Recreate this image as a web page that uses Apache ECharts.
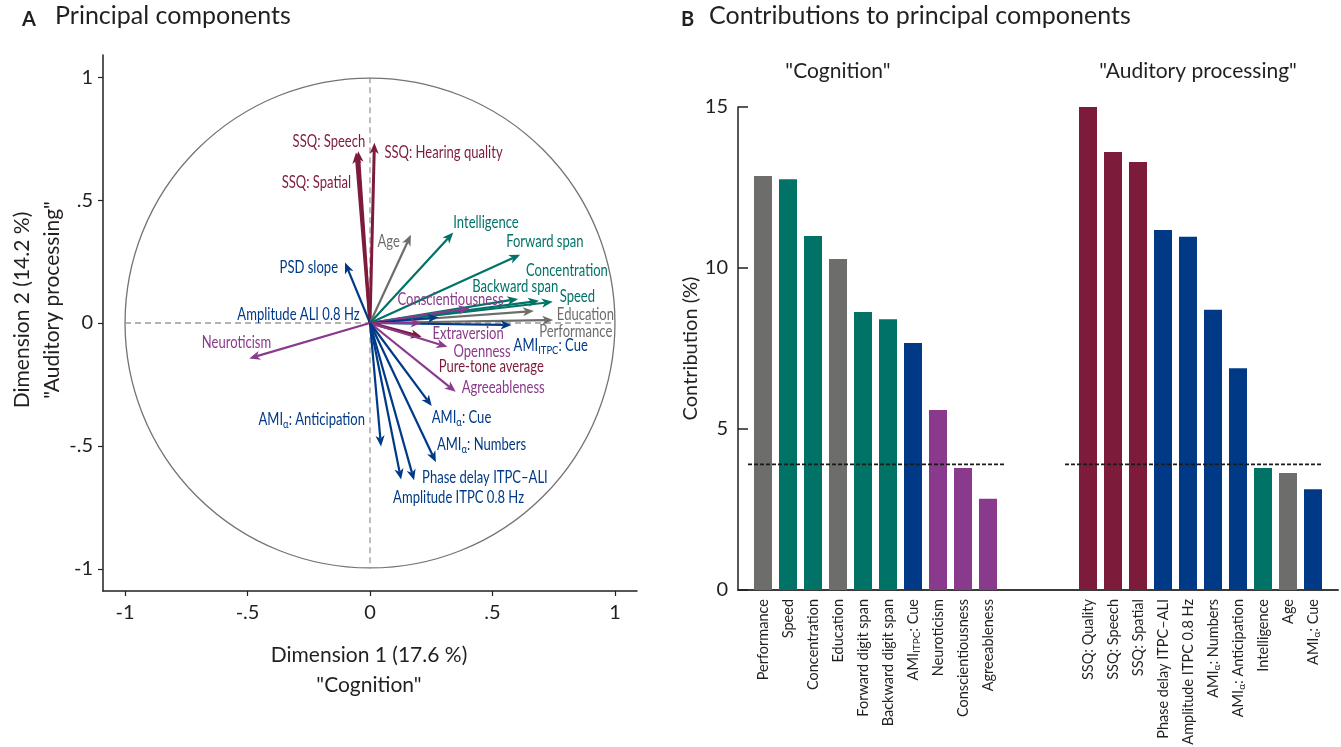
<!DOCTYPE html>
<html>
<head>
<meta charset="utf-8">
<script src="https://cdn.jsdelivr.net/npm/echarts@6/dist/echarts.min.js"></script>
<style>
  html, body { margin: 0; padding: 0; background: #ffffff; }
  #chart { width: 1341px; height: 747px; }
</style>
</head>
<body>
<div id="chart"></div>
<script>
// ---------- Panel A: PCA loadings (Dimension 1 / Dimension 2) ----------
// "_{...}" marks a subscript in a name.
const loadingNames = [
  'SSQ: Hearing quality', 'SSQ: Speech', 'SSQ: Spatial', 'Age', 'PSD slope',
  'Intelligence', 'Forward span', 'Backward span', 'Concentration', 'Speed',
  'Conscientiousness', 'Education', 'Performance', 'AMI_{ITPC}: Cue', 'Amplitude ALI 0.8 Hz',
  'Extraversion', 'Pure-tone average', 'Openness', 'Agreeableness', 'Neuroticism',
  'AMI_{α}: Anticipation', 'Amplitude ITPC 0.8 Hz', 'Phase delay ITPC\u2013ALI', 'AMI_{α}: Numbers', 'AMI_{α}: Cue'
];
const loadingDim1 = [
  0.018, -0.048, -0.057, 0.167, -0.102,
  0.340, 0.613, 0.605, 0.690, 0.746,
  0.406, 0.669, 0.748, 0.578, 0.280,
  0.210, 0.211, 0.316, 0.350, -0.493,
  0.045, 0.127, 0.180, 0.269, 0.252
];
const loadingDim2 = [
  0.733, 0.699, 0.693, 0.359, 0.246,
  0.368, 0.278, 0.098, 0.090, 0.086,
  0.060, 0.049, 0.012, -0.008, 0.023,
  0.000, -0.056, -0.097, -0.280, -0.144,
  -0.502, -0.637, -0.640, -0.566, -0.338
];
const loadingGroups = [
  'hearing', 'hearing', 'hearing', 'demographic', 'neural',
  'cognitive', 'cognitive', 'cognitive', 'cognitive', 'cognitive',
  'personality', 'demographic', 'demographic', 'neural', 'neural',
  'personality', 'hearing', 'personality', 'personality', 'personality',
  'neural', 'neural', 'neural', 'neural', 'neural'
];
const axisTicksA = [-1, -0.5, 0, 0.5, 1];

// ---------- Panel B: contributions (%) ----------
const cognitionNames = [
  'Performance', 'Speed', 'Concentration', 'Education', 'Forward digit span',
  'Backward digit span', 'AMI_{ITPC}: Cue', 'Neuroticism', 'Conscientiousness', 'Agreeableness'
];
const cognitionValues = [12.86, 12.76, 10.99, 10.28, 8.63, 8.41, 7.67, 5.59, 3.79, 2.83];
const cognitionGroups = [
  'demographic', 'cognitive', 'cognitive', 'demographic', 'cognitive',
  'cognitive', 'neural', 'personality', 'personality', 'personality'
];
const auditoryNames = [
  'SSQ: Quality', 'SSQ: Speech', 'SSQ: Spatial', 'Phase delay ITPC\u2013ALI', 'Amplitude ITPC 0.8 Hz',
  'AMI_{α}: Numbers', 'AMI_{α}: Anticipation', 'Intelligence', 'Age', 'AMI_{α}: Cue'
];
const auditoryValues = [15.03, 13.60, 13.29, 11.18, 10.97, 8.70, 6.89, 3.79, 3.63, 3.13];
const auditoryGroups = [
  'hearing', 'hearing', 'hearing', 'neural', 'neural',
  'neural', 'neural', 'cognitive', 'demographic', 'neural'
];
const expectedContribution = 3.9;

// ---------- styling ----------
const groupColors = {
  demographic: '#6d6e6b',
  cognitive: '#007366',
  neural: '#003a87',
  personality: '#8a3a8c',
  hearing: '#7d1b3a'
};
const INK = '#231f20';
const MAIN_FONT = 'Lato, "Open Sans", sans-serif';
const NARROW_FONT = '"Liberation Sans Narrow", Lato, sans-serif';

// label placement around each arrow tip: [dx, dy, align]
const labelLayout = [
  [10, 10, 'left'], [7, -9, 'right'], [-5, 30, 'right'], [-11, 7, 'right'], [-7, 5, 'right'],
  [0, -10, 'left'], [-14, -13, 'left'], [-46, -12, 'left'], [-13, -30, 'left'], [7, -5, 'left'],
  [-72, -9, 'left'], [23, 4, 'left'], [-14, 12, 'left'], [2, 21, 'left'], [-79, -3, 'right'],
  [11, 11, 'left'], [17, 30, 'left'], [6, 5, 'left'], [6, -4, 'left'], [22, -16, 'right'],
  [-16, -27, 'right'], [-8, 18, 'left'], [8, -3, 'left'], [1, -17, 'left'], [0, 12, 'left']
];

// turn "AMI_{α}: Cue" into rich-text tokens
function toRich(name) {
  return name.split(/(_\{[^}]*\})/).filter(s => s.length).map(s => {
    const m = s.match(/^_\{([^}]*)\}$/);
    return m ? '{s|' + m[1] + '}' : '{n|' + s + '}';
  }).join('');
}
function richStyles(size, color) {
  return {
    n: { fontSize: size, fontFamily: NARROW_FONT, fill: color, color: color, lineHeight: size + 4 },
    s: { fontSize: Math.round(size * 0.72), fontFamily: NARROW_FONT, fill: color, color: color,
         lineHeight: Math.round(size * 0.72), verticalAlign: 'bottom' }
  };
}

function tickText(v) {
  if (v === 0) return '0';
  const s = String(Math.abs(v)).replace(/^0\./, '.');
  return (v < 0 ? '-' : '') + s;
}

// reference circle and dashed zero lines
function renderFrame(params, api) {
  const c = api.coord([0, 0]);
  const e = api.coord([1, 1]);
  const r = e[0] - c[0];
  const left = api.coord([-1, 0]), right = api.coord([1, 0]);
  const top = api.coord([0, 1]), bottom = api.coord([0, -1]);
  return {
    type: 'group',
    children: [
      { type: 'circle', shape: { cx: c[0], cy: c[1], r: r },
        style: { fill: 'none', stroke: '#737373', lineWidth: 1.3 } },
      { type: 'line', shape: { x1: left[0], y1: left[1], x2: right[0], y2: right[1] },
        style: { stroke: '#9a9a9a', lineWidth: 1.3, lineDash: [6, 4] } },
      { type: 'line', shape: { x1: top[0], y1: top[1], x2: bottom[0], y2: bottom[1] },
        style: { stroke: '#9a9a9a', lineWidth: 1.3, lineDash: [6, 4] } }
    ]
  };
}

function renderArrow(params, api) {
  const i = params.dataIndex;
  const o = api.coord([0, 0]);
  const t = api.coord([api.value(0), api.value(1)]);
  const group = loadingGroups[i];
  const color = groupColors[group];
  const lw = group === 'hearing' ? 3 : 2.2;
  const ang = Math.atan2(t[1] - o[1], t[0] - o[0]);
  const L = 11, W = 4.6, notch = 8;
  const cs = Math.cos(ang), sn = Math.sin(ang);
  const base = [t[0] - L * cs, t[1] - L * sn];
  const p1 = [base[0] + W * sn, base[1] - W * cs];
  const p2 = [base[0] - W * sn, base[1] + W * cs];
  const pn = [t[0] - notch * cs, t[1] - notch * sn];
  const lay = labelLayout[i];
  return {
    type: 'group',
    children: [
      { type: 'line', shape: { x1: o[0], y1: o[1], x2: pn[0], y2: pn[1] },
        style: { stroke: color, lineWidth: lw } },
      { type: 'polygon', shape: { points: [t, p1, pn, p2] }, style: { fill: color } },
      { type: 'text', x: t[0] + lay[0], y: t[1] + lay[1], scaleX: 0.79, z2: 10,
        style: { text: toRich(loadingNames[i]), rich: richStyles(16.5, color), fill: color,
                 font: '16.5px ' + NARROW_FONT, align: lay[2], verticalAlign: 'middle' } }
    ]
  };
}

// ---------- panel B category layout ----------
const GAP = 3;
const categoryLabels = ['']
  .concat(cognitionNames, new Array(GAP).fill(''), auditoryNames, ['']);
const barData = ['-']
  .concat(
    cognitionValues.map((v, k) => ({ value: v, itemStyle: { color: groupColors[cognitionGroups[k]] } })),
    new Array(GAP).fill('-'),
    auditoryValues.map((v, k) => ({ value: v, itemStyle: { color: groupColors[auditoryGroups[k]] } })),
    ['-']
  );
const cogFirst = 1, cogLast = cognitionNames.length;
const audFirst = cogLast + GAP + 1, audLast = audFirst + auditoryNames.length - 1;
const thresholdSegments = [
  [cogFirst, cogLast, expectedContribution, -0.6, 0.72],
  [audFirst, audLast, expectedContribution, -0.92, 0.4]
];

function renderThreshold(params, api) {
  const a = api.coord([api.value(0), api.value(2)]);
  const b = api.coord([api.value(1), api.value(2)]);
  const band = api.coord([api.value(0) + 1, api.value(2)])[0] - a[0];
  return {
    type: 'line',
    shape: { x1: a[0] + api.value(3) * band, y1: a[1], x2: b[0] + api.value(4) * band, y2: b[1] },
    style: { stroke: '#1a1a1a', lineWidth: 1.6, lineDash: [4, 2] }
  };
}

const chart = echarts.init(document.getElementById('chart'), null, { renderer: 'canvas' });

const axisLineStyle = { color: INK, width: 1.5 };

const option = {
  animation: false,
  backgroundColor: '#ffffff',
  textStyle: { fontFamily: MAIN_FONT, color: INK },
  grid: [
    { left: 103, top: 55, width: 534, height: 536, outerBoundsMode: 'none', containLabel: false },
    { left: 738, top: 107, right: 3, bottom: 157, outerBoundsMode: 'none', containLabel: false }
  ],
  xAxis: [
    {
      gridIndex: 0, type: 'value', min: -1.09, max: 1.09,
      splitLine: { show: false },
      axisLine: { onZero: false, lineStyle: axisLineStyle },
      axisTick: { customValues: axisTicksA, length: 5, lineStyle: { color: INK, width: 1.2 } },
      axisLabel: { customValues: axisTicksA, formatter: tickText, fontSize: 20,
                   fontFamily: MAIN_FONT, color: INK, margin: 12 }
    },
    {
      gridIndex: 1, type: 'category', data: categoryLabels, boundaryGap: false,
      axisLine: { lineStyle: { color: '#3a3a3a', width: 2 } },
      axisTick: { show: false },
      axisLabel: {
        interval: 0, rotate: 90, margin: 9,
        formatter: v => v ? toRich(v) : '',
        rich: richStyles(14.5, INK), color: INK
      }
    }
  ],
  yAxis: [
    {
      gridIndex: 0, type: 'value', min: -1.09, max: 1.09,
      splitLine: { show: false },
      axisLine: { onZero: false, lineStyle: axisLineStyle },
      axisTick: { customValues: axisTicksA, length: 5, lineStyle: { color: INK, width: 1.2 } },
      axisLabel: { customValues: axisTicksA, formatter: tickText, fontSize: 20,
                   fontFamily: MAIN_FONT, color: INK, margin: 10 }
    },
    {
      gridIndex: 1, type: 'value', min: 0, max: 15, interval: 5,
      splitLine: { show: false },
      axisLine: { show: true, lineStyle: axisLineStyle },
      axisTick: { show: true, inside: true, length: 10, lineStyle: { color: INK, width: 1.5 } },
      axisLabel: { fontSize: 20, fontFamily: MAIN_FONT, color: INK, margin: 10 },
      name: 'Contribution (%)', nameLocation: 'middle', nameGap: 36, nameRotate: 90,
      nameTextStyle: { fontSize: 20, fontFamily: MAIN_FONT, color: INK }
    }
  ],
  series: [
    {
      type: 'custom', xAxisIndex: 0, yAxisIndex: 0, clip: false, silent: true,
      data: [[0, 0]], renderItem: renderFrame, z: 1
    },
    {
      type: 'custom', xAxisIndex: 0, yAxisIndex: 0, clip: false, silent: true,
      data: loadingDim1.map((x, i) => [x, loadingDim2[i]]),
      renderItem: renderArrow, z: 2
    },
    {
      type: 'bar', xAxisIndex: 1, yAxisIndex: 1, barWidth: 18, silent: true,
      data: barData, z: 2
    },
    {
      type: 'custom', xAxisIndex: 1, yAxisIndex: 1, clip: false, silent: true,
      data: thresholdSegments, renderItem: renderThreshold, z: 5,
      encode: { x: [0, 1], y: 2 }
    }
  ],
  graphic: [
    { type: 'text', left: 22, top: 10, style: { text: 'A', font: 'bold 20px ' + MAIN_FONT, fill: INK } },
    { type: 'text', left: 55, top: 3, style: { text: 'Principal components', font: '25px ' + MAIN_FONT, fill: INK } },
    { type: 'text', left: 681, top: 10, style: { text: 'B', font: 'bold 20px ' + MAIN_FONT, fill: INK } },
    { type: 'text', left: 709, top: 3, style: { text: 'Contributions to principal components', font: '25px ' + MAIN_FONT, fill: INK } },
    { type: 'text', x: 838, y: 71, style: { text: '"Cognition"', font: '21px ' + MAIN_FONT, fill: INK, align: 'center', verticalAlign: 'middle' } },
    { type: 'text', x: 1198, y: 71, style: { text: '"Auditory processing"', font: '21px ' + MAIN_FONT, fill: INK, align: 'center', verticalAlign: 'middle' } },
    { type: 'text', x: 369, y: 655, style: { text: 'Dimension 1 (17.6 %)', font: '21px ' + MAIN_FONT, fill: INK, align: 'center', verticalAlign: 'middle' } },
    { type: 'text', x: 369, y: 685, style: { text: '"Cognition"', font: '21px ' + MAIN_FONT, fill: INK, align: 'center', verticalAlign: 'middle' } },
    { type: 'text', x: 22, y: 310, rotation: Math.PI / 2, style: { text: 'Dimension 2 (14.2 %)', font: '21px ' + MAIN_FONT, fill: INK, align: 'center', verticalAlign: 'middle' } },
    { type: 'text', x: 52, y: 300, rotation: Math.PI / 2, style: { text: '"Auditory processing"', font: '21px ' + MAIN_FONT, fill: INK, align: 'center', verticalAlign: 'middle' } }
  ]
};

chart.setOption(option);
</script>
</body>
</html>
